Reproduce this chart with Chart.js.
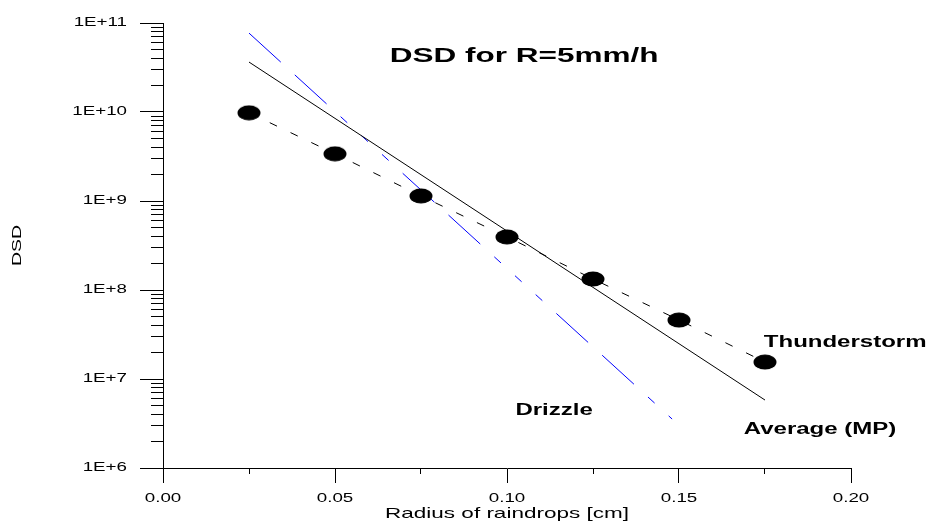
<!DOCTYPE html>
<html>
<head>
<meta charset="utf-8">
<script src="https://cdn.jsdelivr.net/npm/chart.js"></script>
<style>
  html, body { margin: 0; padding: 0; background: #ffffff; }
  canvas { display: block; }
</style>
</head>
<body>
<canvas id="chart" width="929" height="524"></canvas>
<script>
// ---------------- data ----------------
const radiusCm = [0.025, 0.05, 0.075, 0.10, 0.125, 0.15, 0.175];
const thunderstormDSD = [9.8e9, 3.39e9, 1.14e9, 3.95e8, 1.33e8, 4.6e7, 1.55e7];
const averageRadius = [0.025, 0.175];
const averageDSD = [3.64e10, 5.8e6];
const drizzleRadius = [0.025, 0.148];
const drizzleDSD = [7.7e10, 3.55e6];

const xTickValues = [0, 0.05, 0.10, 0.15, 0.20];
const xTickLabels = ['0.00', '0.05', '0.10', '0.15', '0.20'];
const xMinorTickValues = [0.025, 0.075, 0.125, 0.175];
const yTickValues = [1e6, 1e7, 1e8, 1e9, 1e10, 1e11];
const yTickLabels = ['1E+6', '1E+7', '1E+8', '1E+9', '1E+10', '1E+11'];
const yMinorMultipliers = [2, 3, 4, 5, 6, 7, 8, 9];

const chartTitle = 'DSD for R=5mm/h';
const titlePosition = [0.105, 4.23e10];
const seriesLabels = ['Thunderstorm', 'Average (MP)', 'Drizzle'];
const seriesLabelX = [0.1983, 0.191, 0.1137];
const seriesLabelY = [2.535e7, 2.73e6, 4.47e6];

const xAxisTitle = 'Radius of raindrops [cm]';
const yAxisTitle = 'DSD';

// ---------------- rendering ----------------
const FONT = "'Liberation Sans', Arial, sans-serif";
const STRETCH = 1.5; // the reference is drawn with horizontally widened text

const canvas = document.getElementById('chart');
const ctx = canvas.getContext('2d');
const origFillText = CanvasRenderingContext2D.prototype.fillText;
ctx.fillText = function (text, x, y, maxWidth) {
  this.save();
  this.translate(x, y);
  this.scale(STRETCH, 1);
  if (maxWidth === undefined) origFillText.call(this, text, 0, 0);
  else origFillText.call(this, text, 0, 0, maxWidth / STRETCH);
  this.restore();
};

function makeEllipse(w, h) {
  const c = document.createElement('canvas');
  c.width = w; c.height = h;
  const g = c.getContext('2d');
  g.fillStyle = '#000000';
  g.beginPath();
  g.ellipse(w / 2, h / 2, w / 2 - 0.5, h / 2 - 0.5, 0, 0, Math.PI * 2);
  g.fill();
  return c;
}
const dot = makeEllipse(24, 16);

Chart.defaults.font.family = FONT;
Chart.defaults.color = '#000000';

const annotationPlugin = {
  id: 'annotations',
  afterDraw(chart) {
    const c = chart.ctx;
    const xs = chart.scales.x, ys = chart.scales.y;
    c.save();
    c.fillStyle = '#000000';
    c.textAlign = 'center';
    c.textBaseline = 'middle';
    c.font = 'bold 21px ' + FONT;
    c.fillText(chartTitle, xs.getPixelForValue(titlePosition[0]), ys.getPixelForValue(titlePosition[1]));
    c.font = 'bold 16px ' + FONT;
    seriesLabels.forEach((t, i) => {
      c.fillText(t, xs.getPixelForValue(seriesLabelX[i]), ys.getPixelForValue(seriesLabelY[i]));
    });
    c.restore();
  }
};

const toPoints = (xs, ys) => xs.map((x, i) => ({ x: x, y: ys[i] }));

new Chart(ctx, {
  type: 'line',
  data: {
    datasets: [
      {
        label: seriesLabels[0],
        data: toPoints(radiusCm, thunderstormDSD),
        borderColor: '#000000',
        backgroundColor: '#000000',
        borderWidth: 1,
        borderDash: [8, 15],
        pointStyle: dot,
        pointRadius: 12,
        pointHoverRadius: 12,
        tension: 0,
        fill: false,
        order: 0
      },
      {
        label: seriesLabels[1],
        data: toPoints(averageRadius, averageDSD),
        borderColor: '#000000',
        borderWidth: 1,
        pointRadius: 0,
        tension: 0,
        fill: false,
        order: 1
      },
      {
        label: seriesLabels[2],
        data: toPoints(drizzleRadius, drizzleDSD),
        borderColor: '#0000ff',
        borderWidth: 1,
        borderDash: [43, 19, 43, 19, 9, 19, 9, 19, 9, 19],
        pointRadius: 0,
        tension: 0,
        fill: false,
        order: 2
      }
    ]
  },
  options: {
    responsive: false,
    animation: false,
    events: [],
    layout: { padding: { top: 23, right: 78, left: 0, bottom: 0 } },
    plugins: {
      legend: { display: false },
      tooltip: { enabled: false },
      title: { display: false }
    },
    scales: {
      x: {
        type: 'linear',
        position: 'bottom',
        min: 0, max: 0.2,
        weight: 1,
        afterBuildTicks: (axis) => { axis.ticks = xTickValues.map(v => ({ value: v })); },
        afterFit: (axis) => { axis.height = 56; },
        ticks: {
          autoSkip: false, maxRotation: 0, minRotation: 0, padding: 8,
          color: '#000000', font: { size: 12.5 },
          callback: (v, i) => xTickLabels[i]
        },
        grid: { drawOnChartArea: false, drawTicks: true, tickLength: 15, tickColor: '#000000', tickWidth: 1 },
        border: { display: true, color: '#000000', width: 1 },
        title: { display: true, text: xAxisTitle, color: '#000000', font: { size: 15 }, padding: { top: 0, bottom: 1 } }
      },
      xMinor: {
        type: 'linear',
        position: 'bottom',
        min: 0, max: 0.2,
        weight: 0,
        afterBuildTicks: (axis) => { axis.ticks = xMinorTickValues.map(v => ({ value: v })); },
        afterFit: (axis) => { axis.height = 0; },
        ticks: { display: false, autoSkip: false },
        grid: { drawOnChartArea: false, drawTicks: true, tickLength: 6, tickColor: '#000000', tickWidth: 1 },
        border: { display: false }
      },
      y: {
        type: 'logarithmic',
        position: 'left',
        min: 1e6, max: 1e11,
        weight: 1,
        afterBuildTicks: (axis) => { axis.ticks = yTickValues.map(v => ({ value: v })); },
        afterFit: (axis) => { axis.width = 163; },
        ticks: {
          autoSkip: false, padding: 13,
          color: '#000000', font: { size: 12.5 },
          callback: (v, i) => yTickLabels[i]
        },
        grid: { drawOnChartArea: false, drawTicks: true, tickLength: 23, tickColor: '#000000', tickWidth: 1 },
        border: { display: true, color: '#000000', width: 1 },
        title: { display: true, text: yAxisTitle, color: '#000000', font: { size: 13 }, padding: { top: 10, bottom: 0 } }
      },
      yMinor: {
        type: 'logarithmic',
        position: 'left',
        min: 1e6, max: 1e11,
        weight: 0,
        afterBuildTicks: (axis) => {
          const t = [];
          for (let e = 6; e < 11; e++) {
            yMinorMultipliers.forEach(m => t.push({ value: m * Math.pow(10, e) }));
          }
          axis.ticks = t;
        },
        afterFit: (axis) => { axis.width = 0; },
        ticks: { display: false, autoSkip: false },
        grid: { drawOnChartArea: false, drawTicks: true, tickLength: 12, tickColor: '#000000', tickWidth: 1 },
        border: { display: false }
      }
    }
  },
  plugins: [annotationPlugin]
});
</script>
</body>
</html>
